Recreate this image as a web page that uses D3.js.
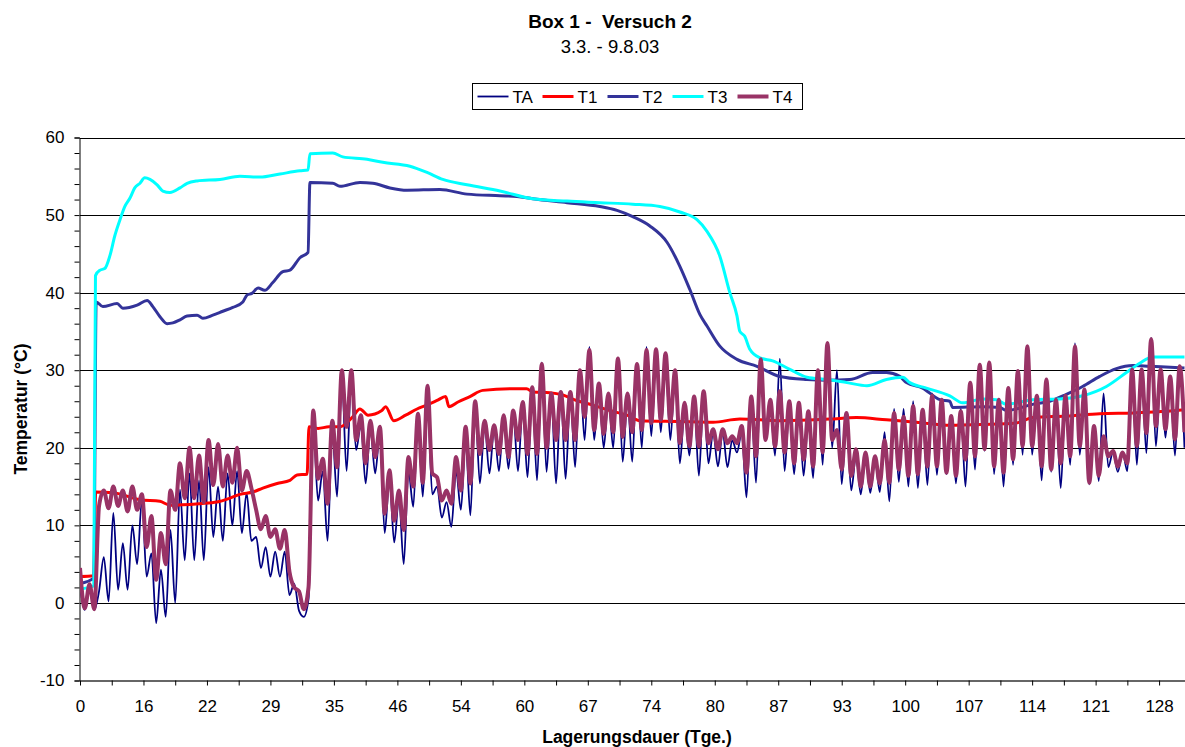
<!DOCTYPE html>
<html>
<head>
<meta charset="utf-8">
<script src="https://cdn.jsdelivr.net/npm/d3@7"></script>
<style>
  body { margin: 0; background: #fff; }
  svg text { font-family: Arial, "Liberation Sans", sans-serif; fill: #000; white-space: pre; }
</style>
</head>
<body>
<svg id="chart" width="1185" height="747"></svg>
<script>
// x labels of the category axis (Lagerungsdauer in Tagen)
const dayLabels = ["0", "16", "22", "29", "35", "46", "54", "60", "67", "74", "80", "87", "93", "100", "107", "114", "121", "128"];

// TA and T4: one value per measurement (half-day readings)
const taValues = [
  2.5, -0.9, 1.7, -0.9, 1.5, 5.9, 0.2, 11.6, 1.7, 7.7,
  1.7, 10, 5, 13.3, 3.4, 6.4, -2.6, 4.3, -1.8, 9.4,
  0, 14.6, 5.5, 16.7, 5.5, 15.8, 5.5, 17.5, 8.5, 15,
  8, 16.7, 10, 17, 9, 14.2, 8, 8.5, 4.5, 7.2,
  3.4, 6.6, 3.4, 6.6, 1, 2.5, -1, -1.8, 0.5, 23,
  13.2, 17, 8, 22, 13.7, 29, 17, 29, 19.7, 23,
  15.4, 22.5, 16.7, 22, 9, 16, 7.8, 13.5, 5, 17,
  12.4, 24, 13.7, 26, 14, 15, 11, 13, 9.8, 17,
  12, 21, 11.3, 25.5, 15.4, 23, 16.7, 22.5, 17, 24,
  17.3, 24.5, 17, 25.5, 16.2, 27.5, 15.8, 31, 16.9, 26.5,
  15.4, 27, 16, 27, 17.5, 30, 21, 33, 21, 28,
  20, 26.5, 20, 31, 18.2, 26.5, 18.2, 30.5, 20, 33,
  21.5, 32, 22, 31.5, 21, 29.5, 18, 25, 19, 26,
  16.4, 27, 18, 22, 17.6, 22, 17.5, 21, 19.4, 22,
  13.6, 26, 15.5, 30.5, 21, 25.5, 19, 31.5, 17, 25.5,
  16.6, 25, 16.4, 24, 16.1, 29.5, 17.8, 33, 20, 30,
  15.3, 24, 14.5, 19, 14, 19, 14.2, 18.5, 14.3, 22,
  13.1, 25, 15.6, 25, 15, 26, 14.8, 25, 15.2, 27,
  16.5, 26, 16.6, 24, 15.4, 25, 15, 28, 17.2, 30.5,
  19.6, 31, 16.6, 26, 15, 27.5, 17.8, 30, 19.1, 33,
  19.1, 26.5, 15.8, 28.5, 16.9, 26, 14.8, 26.5, 17.8, 33.5,
  19.1, 27, 15.3, 22.5, 15.7, 27, 17.5, 19.5, 16.9, 19.4,
  17, 30, 17.8, 30, 19.3, 34.2, 20.2, 30, 21.3, 29,
  19, 30.5, 20
];

const t4Values = [
  4.5, -0.7, 2.4, -0.8, 12.5, 14.5, 12.2, 15, 12.5, 14.5,
  11.8, 15, 12, 14, 7.2, 11.2, 3, 9, 5, 14.5,
  12, 18, 13.5, 20, 13.5, 19, 13, 21, 15.2, 20.5,
  15, 19, 15.5, 20, 14.5, 17, 14.8, 12, 9.5, 11.2,
  8.5, 9.5, 7, 9.4, 4, 2, 1.5, -0.8, 2, 24.8,
  16, 18.6, 12.8, 23.5, 17.5, 30, 22.7, 30, 21, 24.2,
  18, 23.5, 18.8, 22.7, 11.5, 17.1, 10.6, 14.5, 9.4, 18.8,
  15, 24.4, 15.5, 28, 16.7, 16.2, 13.2, 14.5, 12.8, 18.8,
  14.5, 22.7, 15.4, 26, 19.2, 23.5, 19.7, 22.9, 19.2, 24.2,
  18.8, 24.8, 21, 25.9, 19.2, 27.8, 19.2, 30.8, 20, 27,
  21, 27.2, 21, 27.2, 21, 30, 24, 32.6, 22.3, 28.3,
  21.8, 27, 22, 31.5, 21.4, 27, 22, 30.8, 22.3, 32.6,
  23.2, 32.7, 23.6, 32.2, 23.4, 30, 20.6, 25.8, 20.2, 26.6,
  20.2, 27.3, 20.6, 22.4, 19.8, 22.4, 20.6, 21.5, 20.6, 22.8,
  16.8, 26.6, 18.9, 31.4, 21, 26.2, 20.2, 27.3, 19.4, 26,
  18, 25.8, 18.5, 24.7, 17.6, 30, 19.4, 33.5, 21, 22.3,
  17.2, 24.5, 16.4, 19.8, 15, 19.4, 15, 18.9, 15.4, 21,
  15.5, 24.5, 17.2, 24, 16.4, 25.4, 16.6, 24.9, 17.6, 26.7,
  17.6, 26.2, 16.8, 24.1, 16.4, 24.7, 18.5, 28.4, 18.9, 30.7,
  19.8, 31, 17.6, 26.2, 16.8, 27.7, 18.5, 29.9, 20.2, 33.1,
  20.2, 26.7, 17.6, 28.8, 17.2, 26.2, 18, 26.7, 18.9, 33.1,
  20.2, 27.5, 15.5, 22.8, 16.4, 21.5, 18.9, 19.6, 17.6, 19.4,
  18, 30.1, 20.2, 30.1, 21.9, 34, 22.8, 30.1, 22.4, 29.2,
  21.1, 30.5, 22
];

const t1Points = [
  [0, 3.4], [2.9, 3.5], [3.3, 14.3], [7, 14.2], [12.6, 13.3], [16.8, 13.1], [18.9, 12.6],
  [25.2, 12.8], [28.8, 13], [31.5, 13.5], [33.6, 14], [36.3, 14.3], [38.4, 14.8], [41.4, 15.4],
  [44.1, 15.8], [45.6, 16.5], [47.7, 16.6], [48.1, 22.7], [50, 22.5], [52.3, 22.7], [54.6, 22.7],
  [57.3, 24], [58.8, 25], [60.5, 24.2], [63.4, 24.8], [64.2, 25.3], [65.9, 23.5], [68.4, 24.2],
  [70.8, 25], [72.8, 25.5], [75, 26.1], [76.8, 26.6], [77.5, 25.3], [79.4, 25.9], [81.9, 26.6],
  [84.6, 27.4], [90.3, 27.6], [93.8, 27.6], [95.1, 27.2], [98.7, 27.1], [101.4, 26.8], [104.3, 26.1],
  [107.7, 25.5], [111.3, 24.8], [114.9, 24.2], [117.6, 23.5], [126, 23.4], [133, 23.3], [138.6, 23.7],
  [147, 23.5], [157.5, 23.7], [163.1, 23.9], [169.4, 23.6], [175.6, 23.3], [182.7, 22.9], [189.6, 23],
  [196.7, 23.2], [200.2, 23.9], [207.3, 24.1], [214.2, 24.4], [221.2, 24.5], [228.3, 24.7], [232, 24.9]
];

const t2Points = [
  [0, 2.5], [2.9, 3.2], [3.4, 38.8], [4.8, 38.2], [7.8, 38.6], [9, 38], [12, 38.4], [14.1, 39],
  [15.3, 38.2], [16.8, 36.9], [18.3, 36], [19.5, 36.1], [21, 36.5], [22.5, 37], [24.6, 37.1],
  [25.8, 36.7], [27.9, 37.1], [30, 37.6], [32.1, 38.1], [34.2, 38.8], [35.1, 39.7], [36.1, 39.9],
  [37.4, 40.6], [38.8, 40.3], [40.5, 41.3], [42.6, 42.7], [44.1, 42.9], [46.2, 44.5], [47.9, 45.2],
  [48.3, 54.2], [53.1, 54.1], [54.6, 53.7], [58.8, 54.2], [61.5, 54.1], [65.1, 53.5], [68.7, 53.2],
  [75.6, 53.3], [81.3, 52.7], [88.2, 52.5], [91.8, 52.4], [95.1, 52.1], [102.3, 51.6], [109.2, 51.1],
  [112.8, 50.6], [116.1, 49.8], [119.7, 48.6], [123.3, 46.5], [126, 43.4], [128.1, 40.4], [130.2, 37.2],
  [131.7, 35.7], [134.4, 33.1], [138, 31.4], [142.2, 30.5], [147, 29.2], [152.7, 28.8], [156.9, 28.7],
  [161.7, 28.8], [166.5, 29.7], [169.4, 29.7], [172.2, 29.2], [173.6, 28.4], [177, 27.7], [180.6, 26.2],
  [182.7, 26], [183.3, 25.2], [189.6, 25.3], [193.2, 25.2], [194.6, 24.8], [200.1, 25.6], [203.7, 26],
  [207.2, 26.9], [210.6, 27.9], [214.2, 29.2], [217.7, 30.2], [221.1, 30.6], [224.7, 30.5], [232, 30.3]
];

const t3Points = [
  [0, 1.8], [2.9, 2.2], [3.25, 42.2], [4.2, 42.9], [5.2, 43.1], [6.3, 44.8], [7.3, 47.3], [8.4, 49.4],
  [9.4, 51.1], [10.5, 52.2], [11.5, 53.5], [12.6, 54.1], [13.6, 54.8], [14.7, 54.6], [16.2, 53.9],
  [17.4, 53.1], [18.9, 52.9], [21, 53.5], [22.5, 54.1], [24.6, 54.4], [29.4, 54.6], [33.6, 55],
  [37.8, 54.9], [42, 55.3], [46.2, 55.7], [47.9, 55.8], [48.3, 57.9], [53.1, 58], [55.2, 57.5],
  [60.3, 57.2], [63.6, 56.8], [69.3, 56.3], [72.9, 55.5], [76.2, 54.6], [81.3, 53.9], [88.2, 53.1],
  [95.1, 52.1], [102.3, 51.8], [109.2, 51.6], [116.1, 51.4], [121.8, 51.1], [126, 50.4], [129.6, 49.4],
  [131.7, 47.9], [134.4, 44.7], [136.5, 40], [138, 37], [138.6, 35], [139.6, 34.4], [140.7, 32.7],
  [142.8, 31.6], [145.5, 31.2], [149.1, 30.1], [152.7, 29.1], [156.9, 28.8], [161.1, 28.4], [165.3, 28],
  [169.4, 28.8], [172.8, 29.1], [174.3, 28.4], [177.8, 27.7], [182.7, 26.7], [185.4, 25.8], [189.6, 26.3],
  [192.5, 26.2], [194.6, 25.6], [200.1, 26.2], [205.8, 26.3], [210.6, 26.7], [215.6, 27.9], [219.8, 29.7],
  [222.6, 30.9], [225.3, 31.7], [232, 31.7]
];

const svg = d3.select("#chart");
const plot = { left: 80, right: 1194, top: 137.5, bottom: 680.5 };

const x = d3.scaleLinear().domain([0, 234]).range([plot.left, plot.right]);
const y = d3.scaleLinear().domain([-10, 60]).range([plot.bottom, plot.top]);

const series = [
  { name: "TA", color: "#000080", width: 1.8, data: taValues.map((v, i) => [i, v]) },
  { name: "T1", color: "#ff0000", width: 3, data: t1Points },
  { name: "T2", color: "#333399", width: 3, data: t2Points },
  { name: "T3", color: "#00ffff", width: 3, data: t3Points },
  { name: "T4", color: "#993366", width: 4, data: t4Values.map((v, i) => [i, v]) },
];

// titles
svg.append("text")
  .attr("x", 610).attr("y", 28)
  .attr("text-anchor", "middle")
  .attr("xml:space", "preserve")
  .style("font-size", "19px").style("font-weight", "bold")
  .text("Box 1 -  Versuch 2");

svg.append("text")
  .attr("x", 610).attr("y", 53)
  .attr("text-anchor", "middle")
  .style("font-size", "18.5px")
  .text("3.3. - 9.8.03");

// gridlines
svg.append("g")
  .selectAll("line")
  .data(d3.range(0, 61, 10))
  .join("line")
  .attr("x1", plot.left).attr("x2", plot.right)
  .attr("y1", (d) => Math.round(y(d)) + 0.5)
  .attr("y2", (d) => Math.round(y(d)) + 0.5)
  .attr("stroke", "#000")
  .attr("stroke-width", 1);

// y axis
const yAxis = svg.append("g")
  .attr("transform", `translate(${plot.left - 0.5}, 0)`)
  .call(
    d3.axisLeft(y)
      .tickValues(d3.range(-10, 61, 2))
      .tickSize(5)
      .tickPadding(10)
      .tickFormat((d) => (d % 10 === 0 ? d : ""))
  );
yAxis.select(".domain").attr("stroke", "#000");
yAxis.selectAll(".tick line").attr("stroke", "#000");
yAxis.selectAll("text").style("font-size", "17px").attr("font-family", null);

// x axis
const tickStep = 234 / 35.1;
const xAxis = svg.append("g")
  .attr("transform", `translate(0, ${plot.bottom})`)
  .call(
    d3.axisBottom(x)
      .tickValues(d3.range(0, 35).map((k) => k * tickStep))
      .tickSize(5)
      .tickPadding(14)
      .tickSizeOuter(0)
      .tickFormat((d, k) => (k % 2 === 0 ? dayLabels[k / 2] : ""))
  );
xAxis.select(".domain").attr("stroke", "#333").attr("stroke-width", 1.5);
xAxis.selectAll(".tick line").attr("stroke", "#000");
xAxis.selectAll("text").style("font-size", "17px").attr("font-family", null);

// axis titles
svg.append("text")
  .attr("x", 637).attr("y", 743)
  .attr("text-anchor", "middle")
  .style("font-size", "17.5px").style("font-weight", "bold")
  .text("Lagerungsdauer (Tge.)");

svg.append("text")
  .attr("transform", "translate(27, 409) rotate(-90)")
  .attr("text-anchor", "middle")
  .style("font-size", "17.5px").style("font-weight", "bold")
  .text("Temperatur (°C)");

// lines
svg.append("clipPath").attr("id", "plot-clip")
  .append("rect")
  .attr("x", plot.left).attr("y", plot.top - 5)
  .attr("width", plot.right - plot.left).attr("height", plot.bottom - plot.top + 5);

const line = d3.line()
  .x((d) => x(d[0]))
  .y((d) => y(d[1]))
  .curve(d3.curveMonotoneX);

svg.append("g")
  .attr("clip-path", "url(#plot-clip)")
  .selectAll("path")
  .data(series)
  .join("path")
  .attr("d", (d) => line(d.data))
  .attr("fill", "none")
  .attr("stroke", (d) => d.color)
  .attr("stroke-width", (d) => d.width)
  .attr("stroke-linejoin", "round");

// legend
const legend = svg.append("g").attr("transform", "translate(472.5, 83.5)");
legend.append("rect")
  .attr("width", 330).attr("height", 26)
  .attr("fill", "#fff").attr("stroke", "#000").attr("stroke-width", 1);

const item = legend.selectAll(".item")
  .data(series)
  .join("g")
  .attr("class", "item")
  .attr("transform", (d, i) => `translate(${5 + i * 65}, 13)`);

item.append("line")
  .attr("x1", 0).attr("x2", 31)
  .attr("stroke", (d) => d.color)
  .attr("stroke-width", (d) => d.width);

item.append("text")
  .attr("x", 35).attr("y", 6)
  .style("font-size", "17px")
  .text((d) => d.name);
</script>
</body>
</html>
